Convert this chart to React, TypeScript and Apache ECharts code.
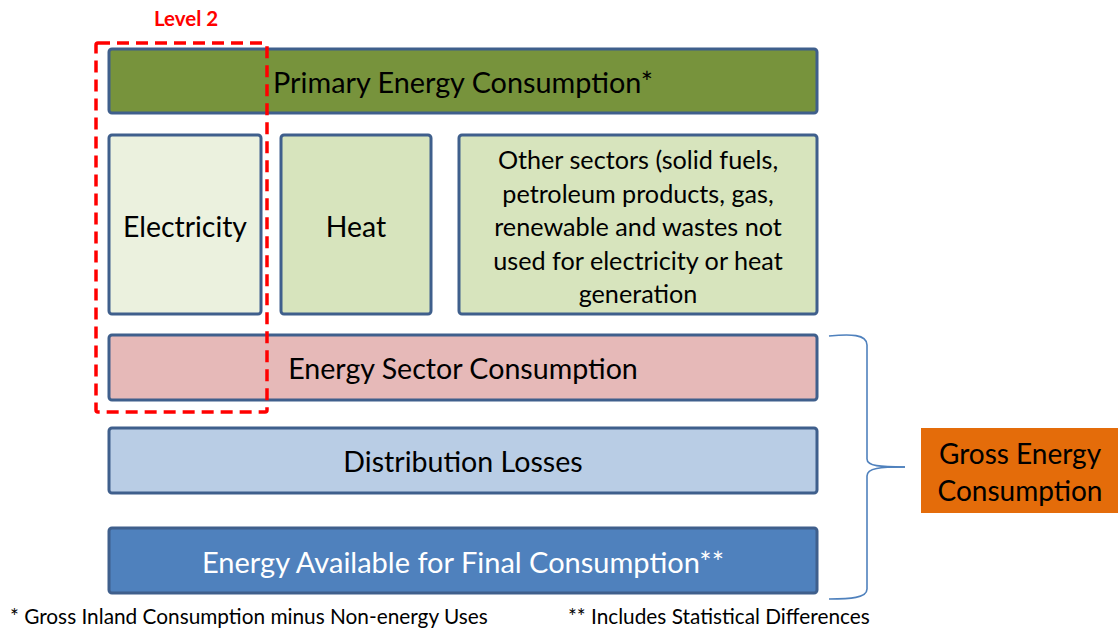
import React, { useEffect, useRef } from "react";
import * as echarts from "echarts";

const levelLabel = "Level 2";
const topLabel = "Primary Energy Consumption*";
const sectorLabels = ["Electricity", "Heat", "Other sectors (solid fuels,\npetroleum products, gas,\nrenewable and wastes not\nused for electricity or heat\ngeneration"];
const lowerLabels = ["Energy Sector Consumption", "Distribution Losses", "Energy Available for Final Consumption**"];
const grossLabel = "Gross Energy\nConsumption";
const footnotes = ["* Gross Inland Consumption minus Non-energy Uses", "** Includes Statistical Differences"];

const FONT = "Lato, 'Open Sans', sans-serif";

export default function App() {
  const ref = useRef<HTMLDivElement>(null);
  useEffect(() => {
    if (!ref.current) return;
    const chart = echarts.init(ref.current, null, { renderer: "svg" });
    const border = "#3F5F8C";
    const els: any[] = [];
    const box = (x: number, y: number, w: number, h: number, fill: string) => ({
      type: "rect",
      shape: { x, y, width: w, height: h, r: 3 },
      style: { fill, stroke: border, lineWidth: 3 },
    });
    const txt = (x: number, y: number, text: string, size: number, color = "#000", extra: any = {}) => ({
      type: "text",
      x,
      y,
      style: { text, fill: color, font: `${size}px ${FONT}`, align: "center", verticalAlign: "middle", lineHeight: 33.5, ...extra },
    });
    // top
    els.push(box(109, 49, 708, 64, "#77933C"));
    els.push(txt(463, 82, topLabel, 28.8));
    // sectors
    const sx = [[109, 152], [281, 150], [459, 358]];
    const sFill = ["#EBF1DE", "#D7E4BD", "#D7E4BD"];
    sx.forEach(([x, w], i) => {
      els.push(box(x, 135, w, 179, sFill[i]));
      els.push(txt(x + w / 2, 226, sectorLabels[i], i === 2 ? 25.2 : 28.4));
    });
    // lower
    const ly = [335, 428, 528];
    const lFill = ["#E6B9B8", "#B9CDE5", "#4F81BD"];
    const lCol = ["#000", "#000", "#fff"];
    ly.forEach((y, i) => {
      els.push(box(109, y, 708, 65, lFill[i]));
      els.push(txt(463, y + 33, lowerLabels[i], i === 2 ? 29 : 28.6, lCol[i]));
    });
    // dashed level 2
    els.push({
      type: "rect",
      shape: { x: 96, y: 43, width: 171, height: 369, r: 2 },
      style: { fill: "none", stroke: "#FF0000", lineWidth: 3.5, lineDash: [12, 7] },
      z: 10,
    });
    els.push(txt(186, 18, levelLabel, 20.5, "#FF0000", { font: `bold 20.5px ${FONT}` }));
    // brace
    const bs = { stroke: "#4F81BD", lineWidth: 1.6, fill: "none" };
    els.push({ type: "bezierCurve", shape: { x1: 829, y1: 336, cpx1: 850, cpy1: 334, cpx2: 867, cpy2: 334, x2: 867, y2: 345 }, style: bs });
    els.push({ type: "line", shape: { x1: 867, y1: 345, x2: 867, y2: 459 }, style: bs });
    els.push({ type: "bezierCurve", shape: { x1: 867, y1: 459, cpx1: 867, cpy1: 466, cpx2: 880, cpy2: 467, x2: 905, y2: 467 }, style: bs });
    els.push({ type: "bezierCurve", shape: { x1: 905, y1: 467, cpx1: 880, cpy1: 467, cpx2: 867, cpy2: 468, x2: 867, y2: 476 }, style: bs });
    els.push({ type: "line", shape: { x1: 867, y1: 476, x2: 867, y2: 589 }, style: bs });
    els.push({ type: "bezierCurve", shape: { x1: 867, y1: 589, cpx1: 867, cpy1: 598, cpx2: 850, cpy2: 599, x2: 829, y2: 599 }, style: bs });
    // gross box
    els.push({ type: "rect", shape: { x: 921, y: 428, width: 197, height: 85 }, style: { fill: "#E46C0A" } });
    els.push(txt(1020, 471, grossLabel, 28, "#000", { lineHeight: 37 }));
    // footnotes
    els.push(txt(10, 615, footnotes[0], 20.8, "#000", { align: "left" }));
    els.push(txt(568, 615, footnotes[1], 20.8, "#000", { align: "left" }));

    chart.setOption({ animation: false, graphic: { elements: els } });
    return () => chart.dispose();
  }, []);
  return <div ref={ref} style={{ width: 1118, height: 628, position: "absolute", left: 0, top: 0 }} />;
}
